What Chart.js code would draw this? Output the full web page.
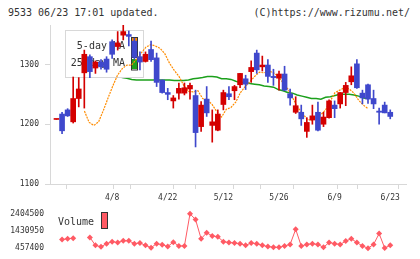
<!DOCTYPE html>
<html><head><meta charset="utf-8">
<script src="https://cdn.jsdelivr.net/npm/chart.js@4/dist/chart.umd.min.js"></script>
<style>
html,body{margin:0;padding:0;background:#fff;width:420px;height:259px;overflow:hidden;}
#wrap{position:relative;width:420px;height:259px;}
.hdr{position:absolute;top:6px;font:10px "DejaVu Sans Mono",monospace;color:#333;line-height:14px;white-space:pre;}
canvas{position:absolute;left:0;}
</style></head><body>
<div id="wrap">
<div class="hdr" style="left:8px">9533 06/23 17:01 updated.</div>
<div class="hdr" style="right:10px">(C)https://www.rizumu.net/</div>
<canvas id="main" width="420" height="205" style="top:0"></canvas>
<canvas id="vol" width="420" height="56" style="top:203px"></canvas>
</div>
<script>
const dates = ["3/25","3/26","3/27","3/28","3/31","4/1","4/2","4/3","4/4","4/7",
"4/8","4/9","4/10","4/11","4/14","4/15","4/16","4/17","4/18","4/21",
"4/22","4/23","4/24","4/25","4/28","4/30","5/1","5/2","5/7","5/8",
"5/12","5/13","5/14","5/15","5/16","5/19","5/20","5/21","5/22","5/23",
"5/26","5/27","5/28","5/29","5/30","6/2","6/3","6/4","6/5","6/6",
"6/9","6/10","6/11","6/12","6/13","6/16","6/17","6/18","6/19","6/20","6/23"];
const labelIndexes = [10,20,30,40,50,60];
const opens  = [1208,1217,1224,1204,1243,1286,1313,1294,1304,1309,1338,1330,1349,1350,1339,1313,1305,1325,1311,1274,1253,1239,1252,1252,1259,1248,1196,1242,1198,1190,1233,1251,1256,1266,1276,1288,1319,1296,1299,1280,1277,1284,1251,1220,1220,1188,1207,1220,1200,1211,1232,1234,1253,1271,1301,1252,1266,1243,1222,1232,1220];
const highs  = [1208,1220,1226,1279,1278,1324,1316,1306,1308,1313,1341,1355,1366,1356,1344,1321,1321,1339,1319,1274,1260,1248,1269,1269,1269,1257,1238,1263,1224,1224,1257,1263,1265,1285,1282,1306,1324,1314,1308,1292,1289,1297,1259,1246,1232,1211,1232,1237,1220,1241,1239,1253,1270,1296,1308,1257,1267,1257,1227,1237,1224];
const lows   = [1208,1184,1213,1202,1229,1227,1278,1285,1292,1287,1310,1324,1341,1331,1309,1291,1304,1305,1263,1252,1241,1227,1242,1249,1242,1162,1188,1213,1170,1189,1224,1241,1241,1261,1258,1270,1285,1289,1270,1265,1257,1256,1232,1218,1198,1178,1200,1189,1196,1210,1211,1227,1231,1266,1260,1234,1235,1226,1200,1219,1209];
const closes = [1208,1189,1214,1243,1259,1317,1288,1304,1296,1292,1317,1336,1355,1347,1312,1304,1317,1308,1270,1253,1250,1244,1260,1261,1265,1186,1232,1219,1204,1217,1253,1246,1263,1285,1267,1295,1291,1299,1280,1278,1284,1257,1244,1231,1209,1203,1214,1190,1212,1239,1226,1253,1265,1281,1261,1244,1242,1234,1220,1219,1213];
const ma5  = [1222,1203,1198,1204,1223,1244,1264,1282,1293,1299,1299,1309,1319,1329,1333,1331,1327,1318,1302,1290,1280,1265,1255,1254,1256,1243,1241,1233,1221,1212,1225,1228,1237,1253,1263,1271,1280,1287,1286,1289,1286,1280,1269,1259,1245,1229,1220,1209,1206,1212,1216,1224,1239,1253,1257,1261,1259,1252,1240,1232,1226];
const ma25 = [1321,1316,1309,1302,1296,1290,1285,1281,1278,1277,1275,1274,1274,1274,1274,1274,1274,1274,1274,1273,1273,1273,1274,1276,1277,1278,1280,1280,1279,1276,1276,1275,1272,1270,1270,1268,1267,1266,1264,1263,1262,1258,1256,1253,1252,1249,1247,1245,1243,1243,1242,1245,1246,1248,1250,1250,1250,1249,1247,1244,1243];
const volumes = [null,944000,993000,1022000,null,null,1070000,618000,535000,715000,827000,779000,876000,876000,715000,750000,618000,487000,715000,652000,555000,798000,584000,584000,2404500,2078000,993000,1333000,1153000,1105000,827000,779000,750000,715000,618000,750000,715000,618000,555000,506000,506000,584000,667000,1528000,584000,667000,715000,667000,506000,779000,715000,667000,861000,993000,779000,584000,457400,667000,1285000,470000,618000];
const priceTicks = [1100,1200,1300];
const priceRange = [1100,1366];
const volumeTicks = [457400,1430950,2404500];

const RED = '#d40000', BLUE = '#3f48cc', AXIS = '#d8d8d8', TXT = '#333';
const MONO = '"DejaVu Sans Mono", monospace';
const X_MIN = -1.1685, X_MAX = 62.8315;
const colors = opens.map((o,i)=> closes[i] >= o ? RED : BLUE);

const maLegend = {
  id: 'maLegend',
  beforeDatasetDraw(chart, args) {
    if (chart.data.datasets[args.index].label !== '5-day MA') return;
    const c = chart.ctx;
    c.save();
    c.fillStyle = '#fff';
    c.fillRect(65, 30, 78, 47);
    c.strokeStyle = AXIS; c.lineWidth = 1;
    c.strokeRect(65.5, 30.5, 78, 47);
    c.font = '10px ' + MONO; c.fillStyle = TXT;
    c.textAlign = 'right'; c.textBaseline = 'middle';
    c.fillText(chart.data.datasets[args.index].label, 125, 46);
    c.fillText('25-day MA', 125, 63.5);
    c.fillStyle = '#ff8c00';
    c.fillRect(132, 38, 2, 3.5); c.fillRect(135, 38, 2, 3.5);
    c.fillStyle = '#1ca01c';
    c.fillRect(132, 59, 5, 10);
    c.strokeStyle = '#333';
    c.strokeRect(131.5, 37.5, 6, 20);
    c.strokeRect(131.5, 57.5, 6, 12.5);
    c.restore();
  }
};

new Chart(document.getElementById('main'), {
  type: 'bar',
  data: { datasets: [
    { type:'bar', label:'body', xAxisID:'x', yAxisID:'y', order:1, grouped:false,
      data: opens.map((o,i)=>({x:i, y:[o, closes[i]]})), backgroundColor: colors,
      barThickness:5, minBarLength:1, borderWidth:0 },
    { type:'bar', label:'wick', xAxisID:'x', yAxisID:'y', order:2, grouped:false,
      data: lows.map((l,i)=>({x:i, y:[l, highs[i]]})), backgroundColor: colors,
      barThickness:1, borderWidth:0 },
    { type:'line', label:'5-day MA', xAxisID:'xl', yAxisID:'y', order:3,
      data: ma5.map((v,i)=>({x:i, y:v})), borderColor:'#ff8c00', borderWidth:1.2,
      borderDash:[2,1], pointRadius:0, tension:0, fill:false },
    { type:'line', label:'25-day MA', xAxisID:'xl', yAxisID:'y', order:4,
      data: ma25.map((v,i)=>({x:i, y:v})), borderColor:'#1ca01c', borderWidth:1.5,
      pointRadius:0, tension:0, fill:false }
  ]},
  options: {
    responsive:false, animation:false, devicePixelRatio:1, events:[],
    layout:{ padding:{ left:0, right:14, top:25, bottom:0 } },
    plugins:{ legend:{display:false}, tooltip:{enabled:false} },
    scales:{
      x:{ type:'linear', min:X_MIN, max:X_MAX, offset:false,
        afterBuildTicks: s => {
          const t = [];
          for (let k=0;k<=11;k++) t.push({value: X_MIN + k*(X_MAX-X_MIN)/11, mark:true, text:''});
          labelIndexes.forEach(i => t.push({value:i, mark:false, text:dates[i]}));
          t.sort((a,b)=>a.value-b.value);
          s.ticks = t;
        },
        afterFit: s => { s.height = 21; },
        grid:{ drawOnChartArea:false, drawTicks:true, tickLength:5, lineWidth:1,
          color: ctx => (ctx.tick && ctx.tick.mark) ? AXIS : 'rgba(0,0,0,0)' },
        border:{ color:AXIS },
        ticks:{ autoSkip:false, maxRotation:0, minRotation:0, padding:4,
          font:{ family:MONO, size:8 }, color:TXT,
          callback:(v,i,t)=> t[i].text || '' } },
      xl:{ type:'linear', display:false, min:-1.903, max:62.63 },
      y:{ type:'linear', min:priceRange[0], max:priceRange[1],
        afterBuildTicks: s => { s.ticks = priceTicks.map(v=>({value:v})); },
        afterFit: s => { s.width = 50; },
        grid:{ drawOnChartArea:false, tickLength:5, color:AXIS },
        border:{ color:AXIS },
        ticks:{ padding:6, font:{ family:MONO, size:8 }, color:TXT, callback: v => String(v) } }
    }
  },
  plugins:[maLegend]
});

const volLegend = {
  id:'volLegend',
  afterDraw(chart) {
    const c = chart.ctx;
    c.save();
    c.font = '10px ' + MONO; c.fillStyle = TXT;
    c.textAlign = 'left'; c.textBaseline = 'middle';
    c.fillText(chart.data.datasets[0].label, 58, 19.5);
    c.fillStyle = '#ff5a64';
    c.fillRect(102, 10, 6, 15);
    c.strokeStyle = '#333'; c.lineWidth = 1;
    c.strokeRect(101.5, 9.5, 6, 16);
    c.restore();
  }
};

new Chart(document.getElementById('vol'), {
  type:'line',
  data:{ datasets:[{ label:'Volume', data: volumes.map((v,i)=>({x:i, y:v})),
    borderColor:'#ff5a64', backgroundColor:'#ff5a64', borderWidth:1,
    pointStyle:'rectRot', pointRadius:3, pointBorderWidth:0, pointBackgroundColor:'#ff5a64',
    spanGaps:false, clip:false, tension:0 }] },
  options:{
    responsive:false, animation:false, devicePixelRatio:1, events:[],
    layout:{ padding:{ left:0, right:14, top:6, bottom:10 } },
    plugins:{ legend:{display:false}, tooltip:{enabled:false} },
    scales:{
      x:{ type:'linear', display:false, min:X_MIN, max:X_MAX },
      y:{ type:'linear', min:volumeTicks[0], max:volumeTicks[2],
        afterBuildTicks: s => { s.ticks = volumeTicks.map(v=>({value:v})); },
        afterFit: s => { s.width = 50; },
        grid:{ display:false, drawTicks:false },
        border:{ display:false },
        ticks:{ padding:6, font:{ family:MONO, size:8 }, color:TXT, callback: v => String(v) } }
    }
  },
  plugins:[volLegend]
});
</script>
</body></html>
